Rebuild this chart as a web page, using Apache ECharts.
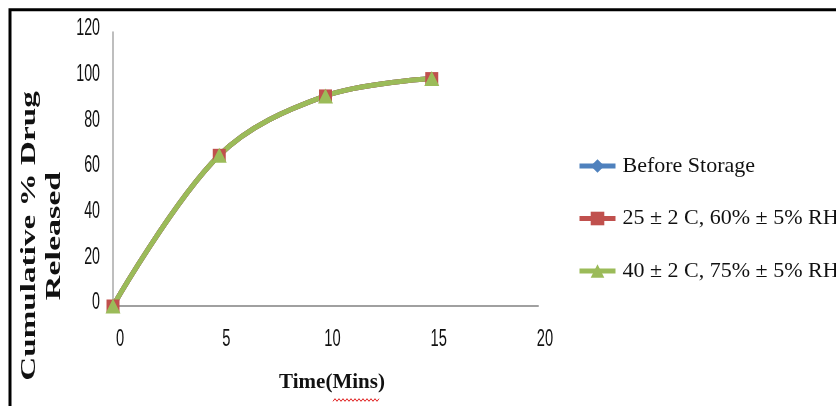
<!DOCTYPE html>
<html>
<head>
<meta charset="utf-8">
<script src="https://cdn.jsdelivr.net/npm/echarts@6/dist/echarts.min.js"></script>
<style>
  html, body { margin: 0; padding: 0; background: #fff; }
  #chart { width: 836px; height: 406px; }
</style>
</head>
<body>
<div id="chart"></div>
<script>
// Dissolution time points (minutes)
const timeMins = [0, 5, 10, 15];
// Cumulative % drug released for each storage condition
const beforeStorage = [0, 66, 92, 99.6];
const cond25 = [0, 66, 92, 99.6];
const cond40 = [0, 66, 92, 99.6];
const seriesNames = ['Before Storage', '25 ± 2 C, 60% ± 5% RH', '40 ± 2 C, 75% ± 5% RH'];
// Tick values shown on each axis
const xTickValues = [0, 5, 10, 15, 20];
const yTickValues = [0, 20, 40, 60, 80, 100, 120];

const pairs = (ys) => timeMins.map((t, i) => [t, ys[i]]);
const sans = "'Liberation Sans', Arial, sans-serif";
const serif = "'Liberation Serif', 'DejaVu Serif', serif";

const chart = echarts.init(document.getElementById('chart'), null, { renderer: 'canvas' });

function lineSeries(name, ys, color, symbol, size) {
  return {
    name: name,
    type: 'line',
    data: pairs(ys),
    smooth: 0.35,
    symbol: symbol,
    symbolSize: size,
    lineStyle: { color: color, width: 5 },
    itemStyle: { color: color },
    emphasis: { disabled: true }
  };
}

// Wavy underline beneath "Mins" in the axis title
const wave = [];
for (let x = 333, k = 0; x <= 380; x += 2, k++) wave.push([x, 400 + (k % 2 ? -1.3 : 1.3)]);

chart.setOption({
  animation: false,
  backgroundColor: '#fff',
  grid: { left: 113, top: 32, right: 298, bottom: 100, containLabel: false },
  xAxis: {
    type: 'value',
    min: xTickValues[0], max: xTickValues[xTickValues.length - 1], interval: 5,
    axisLine: { show: true, lineStyle: { color: '#a0a0a0', width: 2 } },
    axisTick: { show: false },
    splitLine: { show: false },
    axisLabel: { show: false },
    name: 'Time(Mins)',
    nameLocation: 'middle',
    nameGap: 66,
    nameTextStyle: { fontFamily: serif, fontWeight: 'bold', fontSize: 21, color: '#111', padding: [0, 0, 0, 13] }
  },
  yAxis: {
    type: 'value',
    min: yTickValues[0], max: yTickValues[yTickValues.length - 1], interval: 20,
    axisLine: { show: true, lineStyle: { color: '#a8a8a8', width: 1.5 } },
    axisTick: { show: false },
    splitLine: { show: false },
    axisLabel: { show: false }
  },
  legend: {
    orient: 'vertical',
    left: 577, top: 154,
    padding: 0,
    itemWidth: 36, itemHeight: 17,
    itemGap: 28.5,
    data: seriesNames,
    lineStyle: { width: 5 },
    textStyle: { fontFamily: serif, fontSize: 22, color: '#111', lineHeight: 24, padding: [0, 0, 0, 2] }
  },
  series: [
    lineSeries(seriesNames[0], beforeStorage, '#4F81BD', 'diamond', 12),
    lineSeries(seriesNames[1], cond25, '#C0504D', 'rect', 13),
    lineSeries(seriesNames[2], cond40, '#9BBB59', 'triangle', 15)
  ]
});

// Condensed tick labels, placed from the axis scales
const tickFont = "23px " + sans;
const tickLabels = [];
yTickValues.forEach(function (v) {
  const py = chart.convertToPixel({ yAxisIndex: 0 }, v);
  tickLabels.push({ type: 'text', silent: true, x: 100, y: py - 3, scaleX: 0.62,
    style: { text: String(v), font: tickFont, fill: '#111', align: 'right', verticalAlign: 'middle' } });
});
xTickValues.forEach(function (v) {
  const px = chart.convertToPixel({ xAxisIndex: 0 }, v);
  tickLabels.push({ type: 'text', silent: true, x: px + 7, y: 340, scaleX: 0.64,
    style: { text: String(v), font: tickFont, fill: '#111', align: 'center', verticalAlign: 'middle' } });
});

chart.setOption({
  graphic: [
    // Frame around the figure
    { type: 'rect', silent: true, shape: { x: 10, y: 9.7, width: 1200, height: 1200 },
      style: { fill: 'none', stroke: '#000', lineWidth: 3 } },
    // Y-axis title, two lines, stretched along the text direction
    { type: 'text', silent: true, x: 30, y: 236, rotation: Math.PI / 2, scaleX: 1.66, scaleY: 1.05,
      style: { text: 'Cumulative % Drug', font: "bold 20px " + serif, fill: '#111', align: 'center', verticalAlign: 'middle' } },
    { type: 'text', silent: true, x: 55, y: 236, rotation: Math.PI / 2, scaleX: 1.7, scaleY: 1.05,
      style: { text: 'Released', font: "bold 20px " + serif, fill: '#111', align: 'center', verticalAlign: 'middle' } },
    { type: 'polyline', silent: true, shape: { points: wave },
      style: { stroke: '#e02020', lineWidth: 1, fill: 'none' } }
  ].concat(tickLabels)
});
</script>
</body>
</html>
